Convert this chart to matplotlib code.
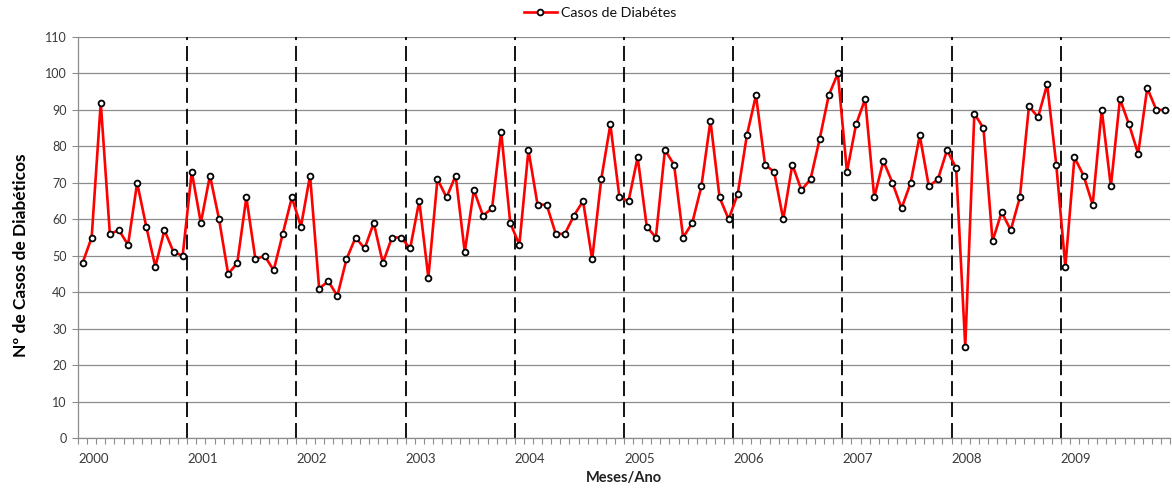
import matplotlib
matplotlib.use("Agg")
import matplotlib.pyplot as plt
import numpy as np

plt.rcParams['font.family'] = ['Lato', 'DejaVu Sans']

years = ['2000', '2001', '2002', '2003', '2004', '2005', '2006', '2007', '2008', '2009']
casos = [
    48, 55, 92, 56, 57, 53, 70, 58, 47, 57, 51, 50,   # 2000
    73, 59, 72, 60, 45, 48, 66, 49, 50, 46, 56, 66,   # 2001
    58, 72, 41, 43, 39, 49, 55, 52, 59, 48, 55, 55,   # 2002
    52, 65, 44, 71, 66, 72, 51, 68, 61, 63, 84, 59,   # 2003
    53, 79, 64, 64, 56, 56, 61, 65, 49, 71, 86, 66,   # 2004
    65, 77, 58, 55, 79, 75, 55, 59, 69, 87, 66, 60,   # 2005
    67, 83, 94, 75, 73, 60, 75, 68, 71, 82, 94, 100,  # 2006
    73, 86, 93, 66, 76, 70, 63, 70, 83, 69, 71, 79,   # 2007
    74, 25, 89, 85, 54, 62, 57, 66, 91, 88, 97, 75,   # 2008
    47, 77, 72, 64, 90, 69, 93, 86, 78, 96, 90, 90,   # 2009
]
serie_nome = 'Casos de Diabétes'
y_ticks = list(range(0, 111, 10))

fig = plt.figure(figsize=(11.72, 4.88), dpi=100)
ax = fig.add_axes([78/1172, 50/488, 1092/1172, 401/488])

x = np.arange(len(casos))
n = len(casos)

grid_col = '#8c8c8c'
for yv in y_ticks:
    ax.axhline(yv, color=grid_col, lw=0.9, zorder=1)

# year boundaries (dashed)
for k in range(1, len(years)):
    ax.axvline(12 * k - 0.5, color='black', lw=1.3, linestyle=(0, (8.3, 3.3)), zorder=2)

ax.plot(x, casos, color='#ff0000', lw=1.9, marker='o', markersize=4.2,
        markerfacecolor='white', markeredgecolor='black', markeredgewidth=1.3,
        label=serie_nome, zorder=3)

ax.set_xlim(-0.5, n - 0.5)
ax.set_ylim(0, 110)
ax.set_yticks(y_ticks)
ax.set_yticklabels([str(v) for v in y_ticks], fontsize=9, color='#3a3a3a')

ax.set_xticks([12 * k - 0.5 for k in range(len(years))])
ax.set_xticklabels(years, fontsize=9.5, color='#3a3a3a', ha='left')
ax.set_xticks(np.arange(-0.5, n, 1.0), minor=True)
ax.tick_params(axis='x', which='both', direction='out', length=4, width=0.8,
               color=grid_col, pad=7)
ax.tick_params(axis='y', which='both', direction='out', length=4, width=0.8,
               color=grid_col, pad=4)

for side in ['top', 'right']:
    ax.spines[side].set_visible(False)
for side in ['left', 'bottom']:
    ax.spines[side].set_color(grid_col)
    ax.spines[side].set_linewidth(0.9)

ax.set_ylabel('Nº de Casos de Diabéticos', fontsize=12.5, fontweight='bold',
              color='black')
ax.yaxis.set_label_coords(-0.045, 0.455)
ax.set_xlabel('Meses/Ano', fontsize=10.5, fontweight='bold', color='#202020', labelpad=4)

leg = fig.legend(loc='center', bbox_to_anchor=(600/1172, 1 - 13/488), frameon=False,
                 fontsize=10.3, handlelength=2.3, handletextpad=0.3)
for t in leg.get_texts():
    t.set_color('#101010')

fig.savefig('out.png', dpi=100)
